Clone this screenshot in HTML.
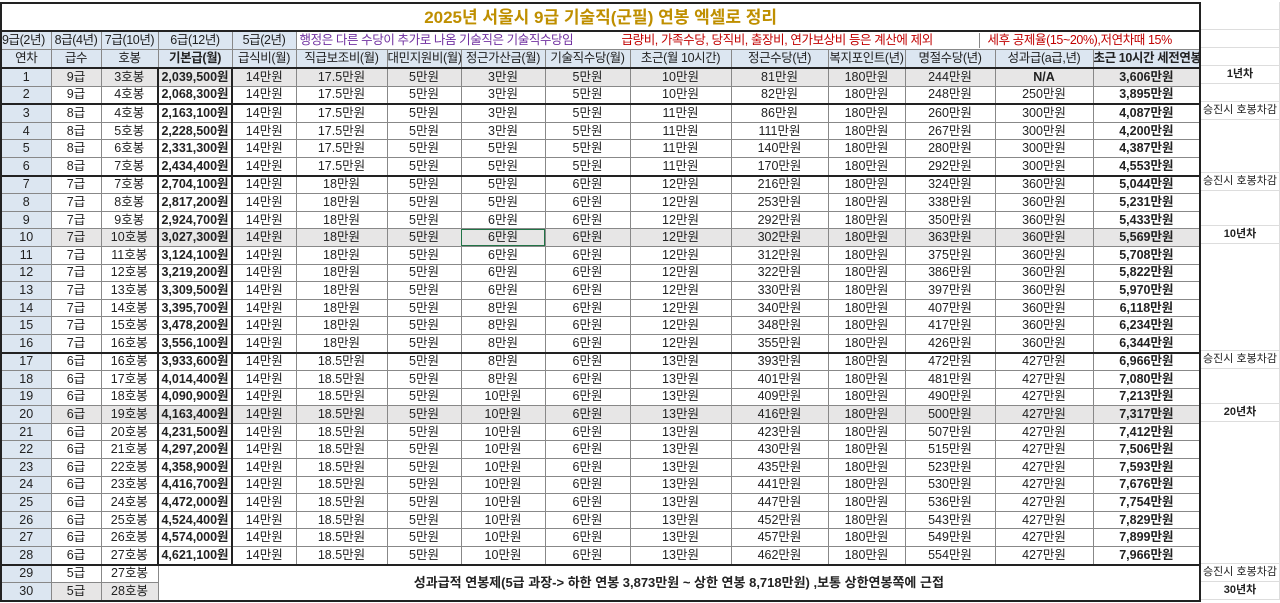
<!DOCTYPE html>
<html><head><meta charset="utf-8"><style>
body{margin:0;width:1280px;height:603px;background:#fff;overflow:hidden;font-family:"Liberation Sans","Noto Sans CJK KR",sans-serif;position:relative}
table{position:absolute;left:0;top:2px;border-collapse:collapse;table-layout:fixed;width:1201px;font-size:12.5px;color:#222}
td{border:1px solid #888;padding:0;text-align:center;white-space:nowrap;overflow:hidden;height:16.6px;line-height:15px}
.t td{height:26px}
.h td{height:17px;letter-spacing:-0.4px}
.title{font-size:17px;font-weight:bold;color:#bf8f00;text-align:center;border:2px solid #222}
.bl{background:#dce6f1}
.b{font-weight:bold}
.g td{background:#e7e6e6}
.g td.y{background:#dce6f1}
td.y{background:#dce6f1}
tr.tk td{border-top:2px solid #222}
td.bb{border-left:2px solid #222;border-right:2px solid #222}
.ol{border-left:2px solid #222}
.or{border-right:2px solid #222}
.ex{position:absolute;left:1201px;width:79px;font-size:11px;text-align:center;border-bottom:1px solid #ddd;border-right:1px solid #ddd;box-sizing:border-box;color:#222;line-height:17px}
</style></head><body>
<table>
<colgroup><col style="width:50px"><col style="width:50px"><col style="width:57px"><col style="width:74px"><col style="width:64px"><col style="width:91px"><col style="width:74px"><col style="width:84px"><col style="width:85px"><col style="width:101px"><col style="width:97px"><col style="width:77px"><col style="width:90px"><col style="width:98px"><col style="width:107px"></colgroup>
<tr class="t"><td colspan="15" class="title">2025년 서울시 9급 기술직(군필) 연봉 엑셀로 정리</td></tr>
<tr class="h"><td class="bl ol" style="text-align:left">9급(2년)</td><td class="bl">8급(4년)</td><td class="bl">7급(10년)</td><td class="bl">6급(12년)</td><td class="bl">5급(2년)</td><td colspan="10" class="or" style="text-align:left;padding:0"><div style="display:flex;font-size:12.5px"><span style="color:#7030a0;width:322px;padding-left:3px">행정은 다른 수당이 추가로 나옴 기술직은 기술직수당임</span><span style="color:#c00000;width:357px;border-right:1px solid #888">급량비, 가족수당, 당직비, 출장비, 연가보상비 등은 계산에 제외</span><span style="color:#c00000;padding-left:8px">세후 공제율(15~20%),저연차때 15%</span></div></td></tr>
<tr class="h"><td class="bl ol">연차</td><td class="bl">급수</td><td class="bl">호봉</td><td class="bl b">기본급(월)</td><td class="bl">급식비(월)</td><td class="bl">직급보조비(월)</td><td class="bl">대민지원비(월)</td><td class="bl">정근가산금(월)</td><td class="bl">기술직수당(월)</td><td class="bl">초근(월 10시간)</td><td class="bl">정근수당(년)</td><td class="bl">복지포인트(년)</td><td class="bl">명절수당(년)</td><td class="bl">성과급(a급,년)</td><td class="bl b or">초근 10시간 세전연봉</td></tr>
<tr class="g tk"><td class="y ol">1</td><td>9급</td><td>3호봉</td><td class="b bb">2,039,500원</td><td>14만원</td><td>17.5만원</td><td>5만원</td><td>3만원</td><td>5만원</td><td>10만원</td><td>81만원</td><td>180만원</td><td>244만원</td><td class="b">N/A</td><td class="b or">3,606만원</td></tr>
<tr><td class="y ol">2</td><td>9급</td><td>4호봉</td><td class="b bb">2,068,300원</td><td>14만원</td><td>17.5만원</td><td>5만원</td><td>3만원</td><td>5만원</td><td>10만원</td><td>82만원</td><td>180만원</td><td>248만원</td><td>250만원</td><td class="b or">3,895만원</td></tr>
<tr class="tk"><td class="y ol">3</td><td>8급</td><td>4호봉</td><td class="b bb">2,163,100원</td><td>14만원</td><td>17.5만원</td><td>5만원</td><td>3만원</td><td>5만원</td><td>11만원</td><td>86만원</td><td>180만원</td><td>260만원</td><td>300만원</td><td class="b or">4,087만원</td></tr>
<tr><td class="y ol">4</td><td>8급</td><td>5호봉</td><td class="b bb">2,228,500원</td><td>14만원</td><td>17.5만원</td><td>5만원</td><td>3만원</td><td>5만원</td><td>11만원</td><td>111만원</td><td>180만원</td><td>267만원</td><td>300만원</td><td class="b or">4,200만원</td></tr>
<tr><td class="y ol">5</td><td>8급</td><td>6호봉</td><td class="b bb">2,331,300원</td><td>14만원</td><td>17.5만원</td><td>5만원</td><td>5만원</td><td>5만원</td><td>11만원</td><td>140만원</td><td>180만원</td><td>280만원</td><td>300만원</td><td class="b or">4,387만원</td></tr>
<tr><td class="y ol">6</td><td>8급</td><td>7호봉</td><td class="b bb">2,434,400원</td><td>14만원</td><td>17.5만원</td><td>5만원</td><td>5만원</td><td>5만원</td><td>11만원</td><td>170만원</td><td>180만원</td><td>292만원</td><td>300만원</td><td class="b or">4,553만원</td></tr>
<tr class="tk"><td class="y ol">7</td><td>7급</td><td>7호봉</td><td class="b bb">2,704,100원</td><td>14만원</td><td>18만원</td><td>5만원</td><td>5만원</td><td>6만원</td><td>12만원</td><td>216만원</td><td>180만원</td><td>324만원</td><td>360만원</td><td class="b or">5,044만원</td></tr>
<tr><td class="y ol">8</td><td>7급</td><td>8호봉</td><td class="b bb">2,817,200원</td><td>14만원</td><td>18만원</td><td>5만원</td><td>5만원</td><td>6만원</td><td>12만원</td><td>253만원</td><td>180만원</td><td>338만원</td><td>360만원</td><td class="b or">5,231만원</td></tr>
<tr><td class="y ol">9</td><td>7급</td><td>9호봉</td><td class="b bb">2,924,700원</td><td>14만원</td><td>18만원</td><td>5만원</td><td>6만원</td><td>6만원</td><td>12만원</td><td>292만원</td><td>180만원</td><td>350만원</td><td>360만원</td><td class="b or">5,433만원</td></tr>
<tr class="g"><td class="y ol">10</td><td>7급</td><td>10호봉</td><td class="b bb">3,027,300원</td><td>14만원</td><td>18만원</td><td>5만원</td><td style="outline:1px solid #217346;outline-offset:-1px">6만원</td><td>6만원</td><td>12만원</td><td>302만원</td><td>180만원</td><td>363만원</td><td>360만원</td><td class="b or">5,569만원</td></tr>
<tr><td class="y ol">11</td><td>7급</td><td>11호봉</td><td class="b bb">3,124,100원</td><td>14만원</td><td>18만원</td><td>5만원</td><td>6만원</td><td>6만원</td><td>12만원</td><td>312만원</td><td>180만원</td><td>375만원</td><td>360만원</td><td class="b or">5,708만원</td></tr>
<tr><td class="y ol">12</td><td>7급</td><td>12호봉</td><td class="b bb">3,219,200원</td><td>14만원</td><td>18만원</td><td>5만원</td><td>6만원</td><td>6만원</td><td>12만원</td><td>322만원</td><td>180만원</td><td>386만원</td><td>360만원</td><td class="b or">5,822만원</td></tr>
<tr><td class="y ol">13</td><td>7급</td><td>13호봉</td><td class="b bb">3,309,500원</td><td>14만원</td><td>18만원</td><td>5만원</td><td>6만원</td><td>6만원</td><td>12만원</td><td>330만원</td><td>180만원</td><td>397만원</td><td>360만원</td><td class="b or">5,970만원</td></tr>
<tr><td class="y ol">14</td><td>7급</td><td>14호봉</td><td class="b bb">3,395,700원</td><td>14만원</td><td>18만원</td><td>5만원</td><td>8만원</td><td>6만원</td><td>12만원</td><td>340만원</td><td>180만원</td><td>407만원</td><td>360만원</td><td class="b or">6,118만원</td></tr>
<tr><td class="y ol">15</td><td>7급</td><td>15호봉</td><td class="b bb">3,478,200원</td><td>14만원</td><td>18만원</td><td>5만원</td><td>8만원</td><td>6만원</td><td>12만원</td><td>348만원</td><td>180만원</td><td>417만원</td><td>360만원</td><td class="b or">6,234만원</td></tr>
<tr><td class="y ol">16</td><td>7급</td><td>16호봉</td><td class="b bb">3,556,100원</td><td>14만원</td><td>18만원</td><td>5만원</td><td>8만원</td><td>6만원</td><td>12만원</td><td>355만원</td><td>180만원</td><td>426만원</td><td>360만원</td><td class="b or">6,344만원</td></tr>
<tr class="tk"><td class="y ol">17</td><td>6급</td><td>16호봉</td><td class="b bb">3,933,600원</td><td>14만원</td><td>18.5만원</td><td>5만원</td><td>8만원</td><td>6만원</td><td>13만원</td><td>393만원</td><td>180만원</td><td>472만원</td><td>427만원</td><td class="b or">6,966만원</td></tr>
<tr><td class="y ol">18</td><td>6급</td><td>17호봉</td><td class="b bb">4,014,400원</td><td>14만원</td><td>18.5만원</td><td>5만원</td><td>8만원</td><td>6만원</td><td>13만원</td><td>401만원</td><td>180만원</td><td>481만원</td><td>427만원</td><td class="b or">7,080만원</td></tr>
<tr><td class="y ol">19</td><td>6급</td><td>18호봉</td><td class="b bb">4,090,900원</td><td>14만원</td><td>18.5만원</td><td>5만원</td><td>10만원</td><td>6만원</td><td>13만원</td><td>409만원</td><td>180만원</td><td>490만원</td><td>427만원</td><td class="b or">7,213만원</td></tr>
<tr class="g"><td class="y ol">20</td><td>6급</td><td>19호봉</td><td class="b bb">4,163,400원</td><td>14만원</td><td>18.5만원</td><td>5만원</td><td>10만원</td><td>6만원</td><td>13만원</td><td>416만원</td><td>180만원</td><td>500만원</td><td>427만원</td><td class="b or">7,317만원</td></tr>
<tr><td class="y ol">21</td><td>6급</td><td>20호봉</td><td class="b bb">4,231,500원</td><td>14만원</td><td>18.5만원</td><td>5만원</td><td>10만원</td><td>6만원</td><td>13만원</td><td>423만원</td><td>180만원</td><td>507만원</td><td>427만원</td><td class="b or">7,412만원</td></tr>
<tr><td class="y ol">22</td><td>6급</td><td>21호봉</td><td class="b bb">4,297,200원</td><td>14만원</td><td>18.5만원</td><td>5만원</td><td>10만원</td><td>6만원</td><td>13만원</td><td>430만원</td><td>180만원</td><td>515만원</td><td>427만원</td><td class="b or">7,506만원</td></tr>
<tr><td class="y ol">23</td><td>6급</td><td>22호봉</td><td class="b bb">4,358,900원</td><td>14만원</td><td>18.5만원</td><td>5만원</td><td>10만원</td><td>6만원</td><td>13만원</td><td>435만원</td><td>180만원</td><td>523만원</td><td>427만원</td><td class="b or">7,593만원</td></tr>
<tr><td class="y ol">24</td><td>6급</td><td>23호봉</td><td class="b bb">4,416,700원</td><td>14만원</td><td>18.5만원</td><td>5만원</td><td>10만원</td><td>6만원</td><td>13만원</td><td>441만원</td><td>180만원</td><td>530만원</td><td>427만원</td><td class="b or">7,676만원</td></tr>
<tr><td class="y ol">25</td><td>6급</td><td>24호봉</td><td class="b bb">4,472,000원</td><td>14만원</td><td>18.5만원</td><td>5만원</td><td>10만원</td><td>6만원</td><td>13만원</td><td>447만원</td><td>180만원</td><td>536만원</td><td>427만원</td><td class="b or">7,754만원</td></tr>
<tr><td class="y ol">26</td><td>6급</td><td>25호봉</td><td class="b bb">4,524,400원</td><td>14만원</td><td>18.5만원</td><td>5만원</td><td>10만원</td><td>6만원</td><td>13만원</td><td>452만원</td><td>180만원</td><td>543만원</td><td>427만원</td><td class="b or">7,829만원</td></tr>
<tr><td class="y ol">27</td><td>6급</td><td>26호봉</td><td class="b bb">4,574,000원</td><td>14만원</td><td>18.5만원</td><td>5만원</td><td>10만원</td><td>6만원</td><td>13만원</td><td>457만원</td><td>180만원</td><td>549만원</td><td>427만원</td><td class="b or">7,899만원</td></tr>
<tr><td class="y ol">28</td><td>6급</td><td>27호봉</td><td class="b bb">4,621,100원</td><td>14만원</td><td>18.5만원</td><td>5만원</td><td>10만원</td><td>6만원</td><td>13만원</td><td>462만원</td><td>180만원</td><td>554만원</td><td>427만원</td><td class="b or">7,966만원</td></tr>
<tr class="tk"><td class="y ol">29</td><td>5급</td><td>27호봉</td><td colspan="12" rowspan="2" class="or" style="border-bottom:2px solid #222;font-size:13px;color:#222"><b>성과급적 연봉제(5급 과장-&gt; 하한 연봉 3,873만원 ~ 상한 연봉 8,718만원) ,보통 상한연봉쪽에 근접</b></td></tr>
<tr class="g" style="border-bottom:2px solid #222"><td class="y ol">30</td><td>5급</td><td>28호봉</td></tr>
</table>
<div class="ex" style="top:2px;height:28px"></div>
<div class="ex" style="top:30px;height:18px"></div>
<div class="ex" style="top:48px;height:18px"></div>
<div class="ex" style="top:66px;height:18px;font-weight:bold">1년차</div>
<div class="ex" style="top:84px;height:18px"></div>
<div class="ex" style="top:102px;height:18px">승진시 호봉차감</div>
<div class="ex" style="top:120px;height:53px"></div>
<div class="ex" style="top:173px;height:18px">승진시 호봉차감</div>
<div class="ex" style="top:191px;height:35px"></div>
<div class="ex" style="top:226px;height:18px;font-weight:bold">10년차</div>
<div class="ex" style="top:244px;height:107px"></div>
<div class="ex" style="top:351px;height:18px">승진시 호봉차감</div>
<div class="ex" style="top:369px;height:35px"></div>
<div class="ex" style="top:404px;height:18px;font-weight:bold">20년차</div>
<div class="ex" style="top:422px;height:142px"></div>
<div class="ex" style="top:564px;height:18px">승진시 호봉차감</div>
<div class="ex" style="top:582px;height:18px;font-weight:bold">30년차</div>
</body></html>
